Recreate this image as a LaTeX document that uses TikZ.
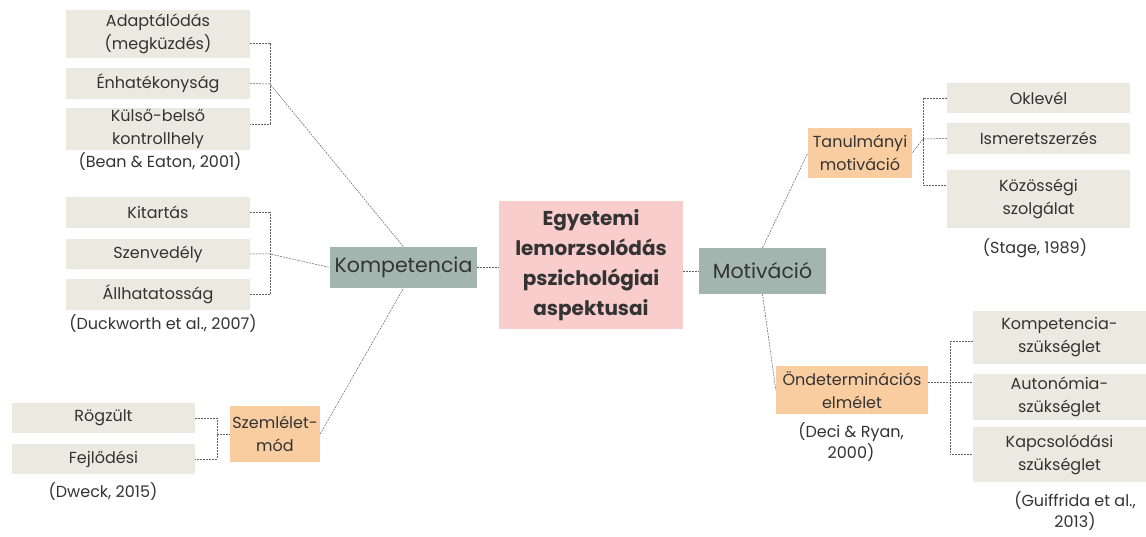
\documentclass[tikz,border=0pt]{standalone}
\usepackage{fontspec}
\setmainfont{Poppins}
\usepackage{xcolor}
\usetikzlibrary{calc}
\definecolor{leafbeige}{RGB}{236,233,224}
\definecolor{mainsage}{RGB}{163,181,175}
\definecolor{suborange}{RGB}{250,205,160}
\definecolor{rootpink}{RGB}{249,205,204}
\definecolor{inkgray}{RGB}{51,51,51}

\begin{document}
\begin{tikzpicture}[
  x=1pt, y=-1pt,
  box/.style={inner sep=0pt, align=center, text=inkgray,
    font=\fontsize{16}{23}\selectfont},
  leaf/.style={box, fill=leafbeige},
  sub/.style={box, fill=suborange},
  main/.style={box, fill=mainsage, font=\fontsize{20.5}{24}\selectfont},
  root/.style={box, fill=rootpink, font=\bfseries\fontsize{20}{30}\selectfont},
  cite/.style={text=inkgray, align=center, inner sep=0pt,
    font=\fontsize{16}{21}\selectfont},
  link/.style={dash pattern=on 2pt off 1pt, gray!75!black, line width=0.5pt}
]
\useasboundingbox (0,0) rectangle (1146,537);

\node[root, minimum width=184, minimum height=128] (root) at (591,265)
  {Egyetemi\\lemorzsolódás\\pszichológiai\\aspektusai};
\node[main, minimum width=147, minimum height=41] (komp) at (403.5,267.5) {Kompetencia};
\node[main, minimum width=127, minimum height=46] (motiv) at (762.5,271) {Motiváció};

\node[leaf, minimum width=184, minimum height=48] (adapt) at (158,34) {Adaptálódás\\(megküzdés)};
\node[leaf, minimum width=184, minimum height=31] (enhat) at (158,83.5) {Énhatékonyság};
\node[leaf, minimum width=184, minimum height=42] (kulso) at (158,129) {Külső-belső\\kontrollhely};
\node[cite] (bean) at (160,162) {(Bean \& Eaton, 2001)};

\node[leaf, minimum width=184, minimum height=31] (kitart) at (158,212.5) {Kitartás};
\node[leaf, minimum width=184, minimum height=30] (szenv) at (158,254) {Szenvedély};
\node[leaf, minimum width=184, minimum height=31] (allhat) at (158,294.5) {Állhatatosság};
\node[cite] (duck) at (163,324) {(Duckworth et al., 2007)};

\node[leaf, minimum width=183, minimum height=30] (rogz) at (103.5,418) {Rögzült};
\node[leaf, minimum width=183, minimum height=30] (fejl) at (103.5,459) {Fejlődési};
\node[cite] (dweck) at (103,492) {(Dweck, 2015)};
\node[sub, minimum width=90, minimum height=56] (szeml) at (275,434) {Szemlélet-\\mód};

\node[sub, minimum width=104, minimum height=50] (tanul) at (860,153) {Tanulmányi\\motiváció};
\node[leaf, minimum width=183, minimum height=30] (okl) at (1038.5,98) {Oklevél};
\node[leaf, minimum width=183, minimum height=31] (ismer) at (1038.5,138.5) {Ismeretszerzés};
\node[leaf, minimum width=183, minimum height=58] (kozos) at (1038.5,199) {Közösségi\\szolgálat};
\node[cite] (stage) at (1035,248) {(Stage, 1989)};

\node[sub, minimum width=152, minimum height=48] (onde) at (852,390) {Öndeterminációs\\elmélet};
\node[cite] (deci) at (851,442) {(Deci \& Ryan,\\2000)};
\node[leaf, minimum width=173, minimum height=53] (kompsz) at (1059.5,337.5) {Kompetencia-\\szükséglet};
\node[leaf, minimum width=173, minimum height=46] (auton) at (1059.5,397) {Autonómia-\\szükséglet};
\node[leaf, minimum width=173, minimum height=55] (kapcs) at (1059.5,454.5) {Kapcsolódási\\szükséglet};
\node[cite] (guiff) at (1075,511) {(Guiffrida et al.,\\2013)};

\coordinate (kbr) at (270,84);
\coordinate (gbr) at (270,254);
\coordinate (sbr) at (217,434);
\coordinate (tbr) at (923,139);
\coordinate (obr) at (950,382);

\draw[link] ([yshift=-9pt]adapt.east) -| (kbr) |- ([yshift=5pt]kulso.east);
\draw[link] (enhat.east) -- (kbr) -- (komp.north);

\draw[link] (kitart.east) -| (gbr) |- (allhat.east);
\draw[link] (szenv.east) -- (gbr) -- (komp.west);

\draw[link] (rogz.east) -| (sbr) |- (fejl.east);
\draw[link] (sbr) -- (szeml.west);
\draw[link] (szeml.east) -- (komp.south);

\draw[link] (komp.east) -- (root.west |- komp.east);
\draw[link] (root.east |- motiv.west) -- (motiv.west);

\draw[link] (motiv.north) -- (tanul.west);
\draw[link] (okl.west) -| (tbr) |- ([yshift=14pt]kozos.west);
\draw[link] (ismer.west) -- (tbr) -- (tanul.east);

\draw[link] (motiv.south) -- (onde.west);
\draw[link] ([yshift=-4pt]kompsz.west) -| (obr) |- (kapcs.west);
\draw[link] ([yshift=8pt]onde.east) -- (obr) -- ([yshift=15pt]auton.west);

\end{tikzpicture}
\end{document}
